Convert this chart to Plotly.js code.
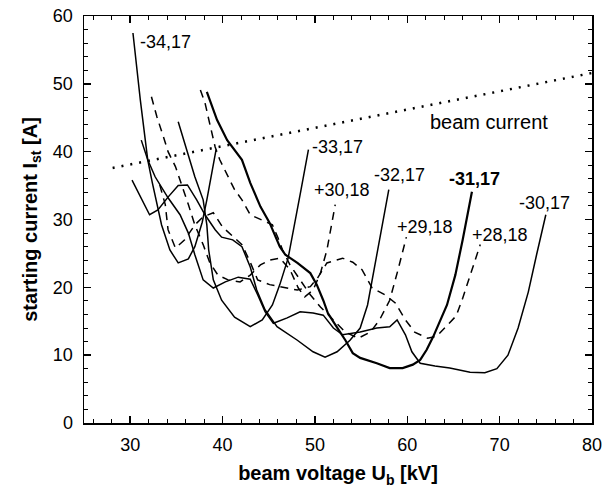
<!DOCTYPE html>
<html><head><meta charset="utf-8">
<script src="https://cdn.plot.ly/plotly-3.0.1.min.js"></script>
<style>html,body{margin:0;padding:0;background:#fff}#chart{width:608px;height:498px}</style>
</head><body><div id="chart"></div>
<script>
// ---- data (beam voltage kV, starting current A) ----
const m34_x = [30.3,31.1,31.9,32.4,33.4,34.3,35.2,36.3,37.0,37.8,38.3,38.9,39.3];
const m34_y = [57.5,47.6,38.8,35.4,29.2,25.5,23.6,24.2,26.0,29.6,32.9,37.3,40.3];

const m33_x = [35.2,36.2,37.0,37.9,38.3,38.5,39.0,39.9,41.3,43.0,44.3,45.4,46.2,47.1,47.8,48.5,49.3];
const m33_y = [44.4,39.8,36.3,32.9,29.2,25.5,21.1,18.1,15.6,14.2,15.2,17.4,20.4,24.3,29.2,34.4,40.3];

const m32_x = [30.2,32.1,33.0,34.1,35.2,36.2,37.2,38.1,39.2,39.9,41.1,42.1,43.0,43.7,44.6,45.9,48.1,49.8,51.1,52.4,53.8,54.9,55.7,56.5,57.3,58.0];
const m32_y = [35.8,30.7,31.4,33.3,35.0,35.1,32.9,30.7,28.5,27.4,27.0,26.0,23.0,19.6,16.7,14.2,12.2,10.5,9.7,10.5,12.2,14.0,17.4,23.3,29.2,34.4];

const m31_x = [38.3,39.4,40.5,42.1,43.0,44.1,45.1,46.2,46.8,48.1,49.5,50.2,50.9,51.4,52.2,53.3,54.1,54.9,56.7,58.1,59.5,60.6,61.4,62.1,62.8,64.3,65.2,66.0,67.0];
const m31_y = [48.8,44.7,41.7,38.8,35.4,31.9,29.5,26.0,24.8,23.6,22.1,20.4,18.1,16.2,14.5,12.2,10.3,9.6,8.8,8.1,8.1,8.6,9.3,10.8,12.7,17.4,21.8,27.0,34.1];

const m30_x = [31.2,31.9,32.7,34.1,35.4,36.3,37.0,37.9,39.0,40.3,41.7,43.0,43.8,44.6,45.5,47.0,48.4,49.8,50.9,52.0,53.0,54.9,56.7,58.1,58.9,59.8,60.5,61.4,63.0,64.6,66.8,68.4,69.7,70.9,72.0,73.1,74.0,75.0];
const m30_y = [41.7,38.8,36.3,33.2,30.7,28.0,24.8,21.1,19.9,20.8,21.5,21.2,18.9,16.4,14.7,15.5,16.4,16.2,15.9,14.0,13.0,13.4,14.0,14.2,15.2,13.0,10.5,8.8,8.4,8.1,7.5,7.4,8.0,10.0,14.0,19.3,24.8,30.7];

const p30_x = [32.3,32.9,33.6,34.1,34.9,35.6,36.3,37.0,37.9,38.6,39.5,40.6,41.9,43.0,44.1,45.1,46.2,47.3,48.2,48.9,49.8,50.6,51.3,52.2];
const p30_y = [48.1,45.1,42.2,40.0,37.8,35.1,32.2,29.2,26.3,23.7,21.8,21.1,20.8,21.8,23.3,24.0,24.3,22.6,19.9,18.6,19.6,22.1,25.5,32.2];

const p29_x = [37.6,38.1,38.6,39.2,39.7,40.5,41.3,42.1,43.0,44.3,45.4,46.0,46.5,47.3,48.4,49.5,50.6,52.0,53.3,54.7,56.0,57.0,58.1,59.0,59.9];
const p29_y = [49.1,47.2,44.2,40.7,38.8,36.6,34.4,32.9,30.7,29.9,29.2,27.3,25.5,23.3,21.1,18.9,17.1,15.2,13.4,12.5,13.4,15.2,18.1,22.6,27.4];

const p28_x = [33.2,33.8,34.1,34.9,35.9,37.0,37.9,39.0,40.0,41.0,42.1,43.0,43.8,45.1,46.8,48.1,49.5,50.3,51.3,53.0,54.1,55.1,56.2,57.6,58.7,59.8,60.8,62.2,63.2,64.3,65.3,66.0,66.8,67.4,67.9];
const p28_y = [35.1,32.2,28.5,25.8,27.0,29.2,30.4,31.0,28.9,27.7,26.3,23.7,21.1,20.4,19.9,19.6,20.1,21.4,23.6,24.3,23.7,22.6,19.9,18.9,17.7,15.2,13.4,12.5,12.8,14.3,15.8,18.4,21.8,24.3,26.3];

const beam_x = [28.1,40,55,70,80];
const beam_y = [37.6,40.8,44.9,48.9,51.6];

const labels = ['-34,17','-33,17','+30,18','-32,17','-31,17','+29,18','+28,18','-30,17','beam current'];
const label_x = [30.8,49.5,49.7,56.2,64.3,58.7,66.8,71.9,62.2];
const label_y = [56.2,40.7,34.4,36.6,36.0,28.9,27.7,32.4,44.4];

const FONT = 'Liberation Sans, Arial, Helvetica, sans-serif';
function tr(x,y,dash,w){return {x:x,y:y,type:'scatter',mode:'lines',line:{color:'#000',width:w,dash:dash},hoverinfo:'skip',showlegend:false};}
const data = [
  tr(m34_x,m34_y,'solid',1.5),
  tr(m33_x,m33_y,'solid',1.5),
  tr(m32_x,m32_y,'solid',1.5),
  tr(m31_x,m31_y,'solid',2.2),
  tr(m30_x,m30_y,'solid',1.5),
  tr(p30_x,p30_y,'8px,6px',1.5),
  tr(p29_x,p29_y,'8px,6px',1.5),
  tr(p28_x,p28_y,'8px,6px',1.5),
  tr(beam_x,beam_y,'2px,7px',2.5)
];
const annotations = labels.map((t,i)=>({
  x:label_x[i], y:label_y[i], xref:'x', yref:'y', text: (t==='-31,17' ? '<b>'+t+'</b>' : t),
  showarrow:false, xanchor:'left', yanchor:'middle',
  font:{family:FONT,size:(t==='beam current'?20:18),color:'#000'}
}));
const axisCommon = {
  showline:true, linecolor:'#000', linewidth:1.5, mirror:'allticks',
  ticks:'inside', ticklen:7, tickwidth:1.5, tickcolor:'#000',
  showgrid:false, zeroline:false, tickfont:{family:FONT,size:18,color:'#000'},
  minor:{dtick:2, ticks:'inside', ticklen:4, tickwidth:1, tickcolor:'#000', showgrid:false}
};
const layout = {
  width:608, height:498, margin:{l:84,r:16,t:16,b:75},
  paper_bgcolor:'#fff', plot_bgcolor:'#fff',
  xaxis: Object.assign({}, axisCommon, {range:[25,80], dtick:10, tick0:0, ticklabelstandoff:5,
    title:{text:'<b>beam voltage U<sub>b</sub> [kV]</b>', font:{family:FONT,size:20,color:'#000'}, standoff:12}}),
  yaxis: Object.assign({}, axisCommon, {range:[0,60], dtick:10, tick0:0, ticklabelstandoff:6,
    title:{text:'<b>starting current I<sub>st</sub> [A]</b>', font:{family:FONT,size:20,color:'#000'}, standoff:10}}),
  annotations: annotations,
  font:{family:FONT,color:'#000'}
};
Plotly.newPlot('chart', data, layout, {displayModeBar:false, staticPlot:true});
</script>
</body></html>
